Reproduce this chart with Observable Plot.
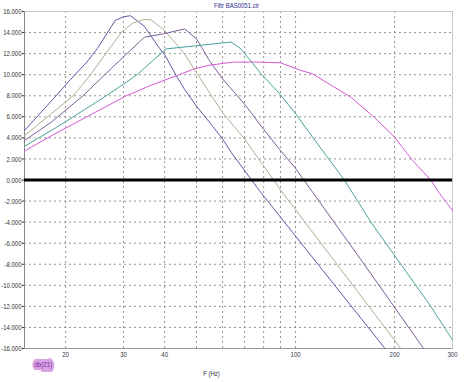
<!DOCTYPE html>
<html>
<head>
<meta charset="utf-8">
<script src="https://cdn.jsdelivr.net/npm/d3@7"></script>
<script src="https://cdn.jsdelivr.net/npm/@observablehq/plot@0.6"></script>
<style>
  html, body { margin: 0; padding: 0; background: #fff; }
</style>
</head>
<body>
<div id="chart"></div>
<script>
const chartTitle = "Filtr BAS0051.cir";
const xLabel = "F (Hz)";
const legendLabel = "db(Z1)";
const xTicks = [20, 30, 40, 50, 60, 70, 80, 90, 100, 200, 300];
const yTicks = [-16, -14, -12, -10, -8, -6, -4, -2, 0, 2, 4, 6, 8, 10, 12, 14, 16];

const freqA = [15, 18.1, 20.5, 23.2, 25, 28.3, 30, 31.5, 34.7, 38.2, 40, 43.4, 46, 50, 54.7, 60, 63.7, 77.6, 187];
const dbA   = [4.7, 7.5, 9.4, 11.2, 12.5, 15.15, 15.5, 15.6, 14.6, 12.7, 11.9, 9.9, 8.6, 7.0, 5.5, 3.9, 2.64, -1.0, -16];

const freqB = [15, 18.1, 21.1, 23.8, 26.5, 29.5, 32, 34.7, 36.4, 40, 45.9, 50, 54.7, 60, 70, 90.3, 209];
const dbB   = [4.2, 6.3, 8.0, 10.0, 12.0, 14.0, 14.9, 15.25, 15.2, 14.2, 12.0, 10.2, 8.3, 6.4, 3.9, -1.0, -16];

const freqC = [15, 18.1, 22.6, 26.3, 29.2, 34.7, 40, 46, 50, 54.7, 60, 70, 80, 90, 100, 161.7, 245];
const dbC   = [3.75, 5.5, 8.0, 10.0, 11.35, 13.55, 13.9, 14.35, 13.4, 11.35, 9.6, 7.2, 4.8, 2.8, 1.1, -8, -16];

const freqD = [15, 18.1, 21.1, 26.6, 33, 36.4, 40.4, 50, 63.7, 68.2, 78.5, 90, 100, 112.7, 140.7, 169.5, 209, 257.8, 300];
const dbD   = [3.2, 4.7, 6.0, 8.0, 10.0, 11.2, 12.45, 12.75, 13.1, 12.46, 10.1, 8.1, 6.3, 4.07, 0, -4, -8, -12, -15.2];

const freqE = [15, 18.1, 23.2, 30.6, 36.4, 43.4, 49.3, 54.7, 64.5, 75, 90, 103.9, 112.7, 147.3, 173.4, 200, 226.9, 257.8, 270, 300];
const dbE   = [2.75, 4.2, 6.0, 8.0, 9.0, 9.9, 10.56, 10.9, 11.19, 11.2, 11.13, 10.4, 10.08, 7.86, 5.96, 4.07, 1.85, 0, -1.0, -2.9];

const seriesDefs = [
  {f: freqA, v: dbA, color: "#5c5ca6"},
  {f: freqB, v: dbB, color: "#adaf90"},
  {f: freqC, v: dbC, color: "#7c5e98"},
  {f: freqD, v: dbD, color: "#48a39c"},
  {f: freqE, v: dbE, color: "#d45ad4"}
];

const font = "'Liberation Sans', Arial, sans-serif";

const lineMarks = seriesDefs.map(s =>
  Plot.line(s.f.map((f, i) => ({f, v: s.v[i]})), {x: "f", y: "v", stroke: s.color, strokeWidth: 1})
);

const chart = Plot.plot({
  width: 468,
  height: 382,
  marginLeft: 24,
  marginRight: 16,
  marginTop: 11,
  marginBottom: 34,
  style: {fontFamily: font, fontSize: "8px", background: "#fff", color: "#333"},
  x: {type: "log", domain: [15, 300]},
  y: {domain: [-16, 16]},
  marks: [
    Plot.gridX(xTicks, {stroke: "#808080", strokeOpacity: 0.85, strokeDasharray: "2,3"}),
    Plot.gridY(yTicks, {stroke: "#808080", strokeOpacity: 0.85, strokeDasharray: "2,3"}),
    Plot.frame({stroke: "#c8c8c8"}),
    Plot.axisX(xTicks, {tickSize: 0, tickPadding: 3, tickFormat: d => String(d), label: null, fill: "#334"}),
    Plot.axisY(yTicks, {tickSize: 2, tickPadding: 1, tickFormat: d => d.toFixed(3), label: null, fill: "#333"}),
    Plot.ruleX([15], {stroke: "#888"}),
    Plot.ruleY([-16], {stroke: "#999"}),
    ...lineMarks,
    Plot.ruleY([0], {stroke: "#000", strokeWidth: 3}),
    Plot.text([chartTitle], {frameAnchor: "top", dx: -2, dy: -6, lineAnchor: "middle", fill: "#2c2c8c", fontSize: 8}),
    Plot.text([xLabel], {frameAnchor: "bottom", dx: -27, dy: 25, lineAnchor: "middle", fill: "#334", fontSize: 8}),
    Plot.text([legendLabel], {frameAnchor: "bottom-left", dx: 10, dy: 16, lineAnchor: "middle", fill: "#7a2a9a", stroke: "#d9a2e2", strokeWidth: 6, strokeLinejoin: "miter", fontSize: 8})
  ]
});

document.getElementById("chart").appendChild(chart);

// mimic the narrow typeface of the original by compressing each label horizontally
chart.querySelectorAll("text").forEach(t => {
  if (t.querySelector("tspan")) {
    t.querySelectorAll("tspan").forEach(ts => {
      const w = ts.getComputedTextLength();
      if (w > 0) { ts.setAttribute("textLength", (w * 0.75).toFixed(2)); ts.setAttribute("lengthAdjust", "spacingAndGlyphs"); }
    });
    return;
  }
  const w = t.getComputedTextLength();
  if (w > 0) { t.setAttribute("textLength", (w * 0.75).toFixed(2)); t.setAttribute("lengthAdjust", "spacingAndGlyphs"); }
});
</script>
</body>
</html>
